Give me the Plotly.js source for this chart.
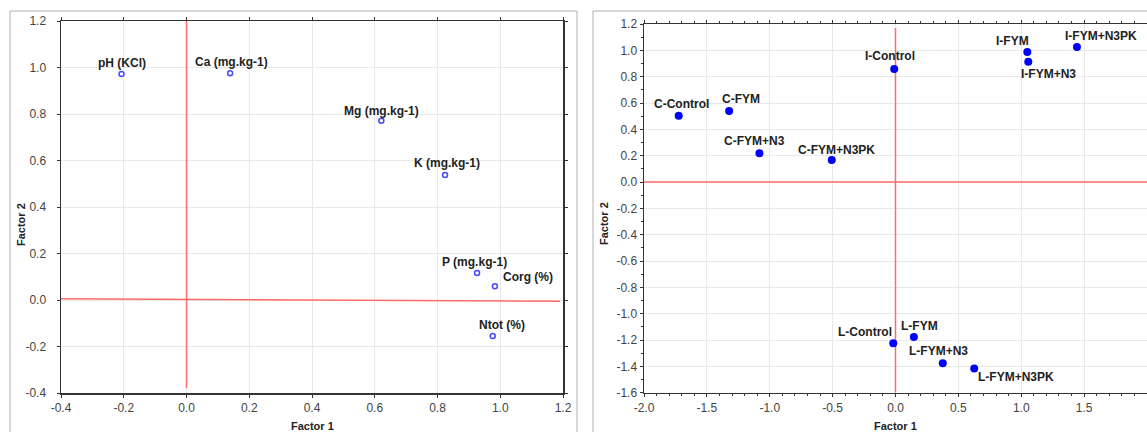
<!DOCTYPE html>
<html>
<head>
<meta charset="utf-8">
<script src="https://cdn.plot.ly/plotly-3.0.1.min.js"></script>
<style>html,body{margin:0;padding:0;background:#fff;}#chart{width:1147px;height:432px;}</style>
</head>
<body>
<div id="chart"></div>
<script>
// Left panel: variable loadings
const varNames = ["pH (KCl)", "Ca (mg.kg-1)", "Mg (mg.kg-1)", "K (mg.kg-1)", "P (mg.kg-1)", "Corg (%)", "Ntot (%)"];
const varF1 = [-0.207, 0.139, 0.621, 0.824, 0.926, 0.983, 0.976];
const varF2 = [0.972, 0.975, 0.771, 0.538, 0.116, 0.059, -0.155];
// label offsets in pixels (style)
const varLabelDx = [0, 1, 0, 1.5, -3, 33, 9];
const varLabelDy = [11, 11, 10, 12, 11, 9, 11];

// Right panel: treatment scores
const caseNames = ["C-Control", "C-FYM", "C-FYM+N3", "C-FYM+N3PK", "I-Control", "I-FYM", "I-FYM+N3", "I-FYM+N3PK", "L-Control", "L-FYM", "L-FYM+N3", "L-FYM+N3PK"];
const caseF1 = [-1.724, -1.323, -1.082, -0.507, -0.010, 1.048, 1.056, 1.443, -0.018, 0.146, 0.376, 0.626];
const caseF2 = [0.503, 0.539, 0.218, 0.167, 0.858, 0.987, 0.914, 1.025, -1.225, -1.177, -1.377, -1.417];
const caseLabelDx = [3, 12, -5, 5, -4, -15, 20, 24, -28, 6, -4.5, 42];
const caseLabelDy = [12, 12, 12, 10, 13, 11, -12, 11, 11, 11, 12, -8];

// Tick values / labels
const leftTicks = [-0.4, -0.2, 0.0, 0.2, 0.4, 0.6, 0.8, 1.0, 1.2];
const leftTickText = ["-0.4", "-0.2", "0.0", "0.2", "0.4", "0.6", "0.8", "1.0", "1.2"];
const rightXTicks = [-2.0, -1.5, -1.0, -0.5, 0.0, 0.5, 1.0, 1.5, 2.0];
const rightXTickText = ["-2.0", "-1.5", "-1.0", "-0.5", "0.0", "0.5", "1.0", "1.5", "2.0"];
const rightYTicks = [-1.6, -1.4, -1.2, -1.0, -0.8, -0.6, -0.4, -0.2, 0.0, 0.2, 0.4, 0.6, 0.8, 1.0, 1.2];
const rightYTickText = ["-1.6", "-1.4", "-1.2", "-1.0", "-0.8", "-0.6", "-0.4", "-0.2", "0.0", "0.2", "0.4", "0.6", "0.8", "1.0", "1.2"];

// Reference (zero) lines
const leftVLineX = [0, 0], leftVLineY = [-0.38, 1.2];
const leftHLineX = [-0.4, 1.19], leftHLineY = [0.005, -0.005];
const rightVLineX = [0, 0], rightVLineY = [-1.6, 1.17];
const rightHLineX = [-2.0, 2.0], rightHLineY = [0, 0];

const FONT = "Liberation Sans, Arial, sans-serif";
const red = "#ff6b6b";

const traces = [
  {x: leftVLineX, y: leftVLineY, mode: "lines", line: {color: red, width: 1.5}, xaxis: "x", yaxis: "y", hoverinfo: "skip"},
  {x: leftHLineX, y: leftHLineY, mode: "lines", line: {color: red, width: 1.5}, xaxis: "x", yaxis: "y", hoverinfo: "skip"},
  {x: varF1, y: varF2, mode: "markers",
   marker: {symbol: "circle-open", size: 5, color: "#4848ff", line: {width: 1.5, color: "#4848ff"}},
   xaxis: "x", yaxis: "y", cliponaxis: false},
  {x: rightVLineX, y: rightVLineY, mode: "lines", line: {color: red, width: 1.5}, xaxis: "x2", yaxis: "y2", hoverinfo: "skip"},
  {x: rightHLineX, y: rightHLineY, mode: "lines", line: {color: red, width: 1.5}, xaxis: "x2", yaxis: "y2", hoverinfo: "skip"},
  {x: caseF1, y: caseF2, mode: "markers",
   marker: {symbol: "circle", size: 8, color: "#0000ff"},
   xaxis: "x2", yaxis: "y2", cliponaxis: false}
];

const labelFont = {family: FONT, size: 12, color: "#222"};
const labelAnns = [];
varNames.forEach((t, i) => labelAnns.push({
  text: "<b>" + t + "</b>", x: varF1[i], y: varF2[i], xref: "x", yref: "y",
  xshift: varLabelDx[i], yshift: varLabelDy[i], showarrow: false,
  xanchor: "center", yanchor: "middle", font: labelFont
}));
caseNames.forEach((t, i) => labelAnns.push({
  text: "<b>" + t + "</b>", x: caseF1[i], y: caseF2[i], xref: "x2", yref: "y2",
  xshift: caseLabelDx[i], yshift: caseLabelDy[i], showarrow: false,
  xanchor: "center", yanchor: "middle", font: labelFont
}));

const axCommon = {
  showline: true, mirror: "ticks", linecolor: "#333", linewidth: 1.5,
  showgrid: true, gridcolor: "#e8e8e8", gridwidth: 1,
  zeroline: false, ticks: "outside", ticklen: 3, tickcolor: "#333",
  tickfont: {family: FONT, size: 12, color: "#444"},
  automargin: false, fixedrange: true, tickmode: "array"
};

const titleFont = {family: FONT, size: 11, color: "#222"};

const layout = {
  width: 1147, height: 432,
  margin: {l: 0, r: 0, t: 0, b: 0},
  paper_bgcolor: "#fff", plot_bgcolor: "#fff",
  showlegend: false,
  font: {family: FONT},
  xaxis: Object.assign({}, axCommon, {domain: [61/1147, 563/1147], range: [-0.4, 1.2], tickvals: leftTicks, ticktext: leftTickText, anchor: "y"}),
  yaxis: Object.assign({}, axCommon, {domain: [39/432, 411/432], range: [-0.4, 1.2], tickvals: leftTicks, ticktext: leftTickText, anchor: "x", ticklabelstandoff: 8}),
  xaxis2: Object.assign({}, axCommon, {domain: [644/1147, 1], range: [-2.0, 2.0], tickvals: rightXTicks, ticktext: rightXTickText, anchor: "y2",
    minor: {dtick: 0.1, ticks: "outside", ticklen: 2, tickcolor: "#333", showgrid: false}}),
  yaxis2: Object.assign({}, axCommon, {domain: [39.3/432, 408/432], range: [-1.6, 1.2], tickvals: rightYTicks, ticktext: rightYTickText, anchor: "x2",
    minor: {dtick: 0.1, ticks: "outside", ticklen: 2, tickcolor: "#333", showgrid: false}}),
  shapes: [
    {type: "rect", xref: "paper", yref: "paper", x0: 10/1147, x1: 577/1147, y0: -0.05, y1: 421/432, line: {color: "#b0b0b0", width: 1}},
    {type: "rect", xref: "paper", yref: "paper", x0: 593/1147, x1: 1.05, y0: -0.05, y1: 421/432, line: {color: "#b0b0b0", width: 1}}
  ],
  annotations: labelAnns.concat([
    {text: "<b>Factor 1</b>", xref: "paper", yref: "paper", x: 312/1147, y: 6/432, xanchor: "center", yanchor: "middle", showarrow: false, font: titleFont},
    {text: "<b>Factor 2</b>", xref: "paper", yref: "paper", x: 21/1147, y: 207/432, xanchor: "center", yanchor: "middle", textangle: -90, showarrow: false, font: titleFont},
    {text: "<b>Factor 1</b>", xref: "paper", yref: "paper", x: 895/1147, y: 6/432, xanchor: "center", yanchor: "middle", showarrow: false, font: titleFont},
    {text: "<b>Factor 2</b>", xref: "paper", yref: "paper", x: 604/1147, y: 208/432, xanchor: "center", yanchor: "middle", textangle: -90, showarrow: false, font: titleFont}
  ])
};

Plotly.newPlot("chart", traces, layout, {staticPlot: true, displayModeBar: false});
</script>
</body>
</html>
